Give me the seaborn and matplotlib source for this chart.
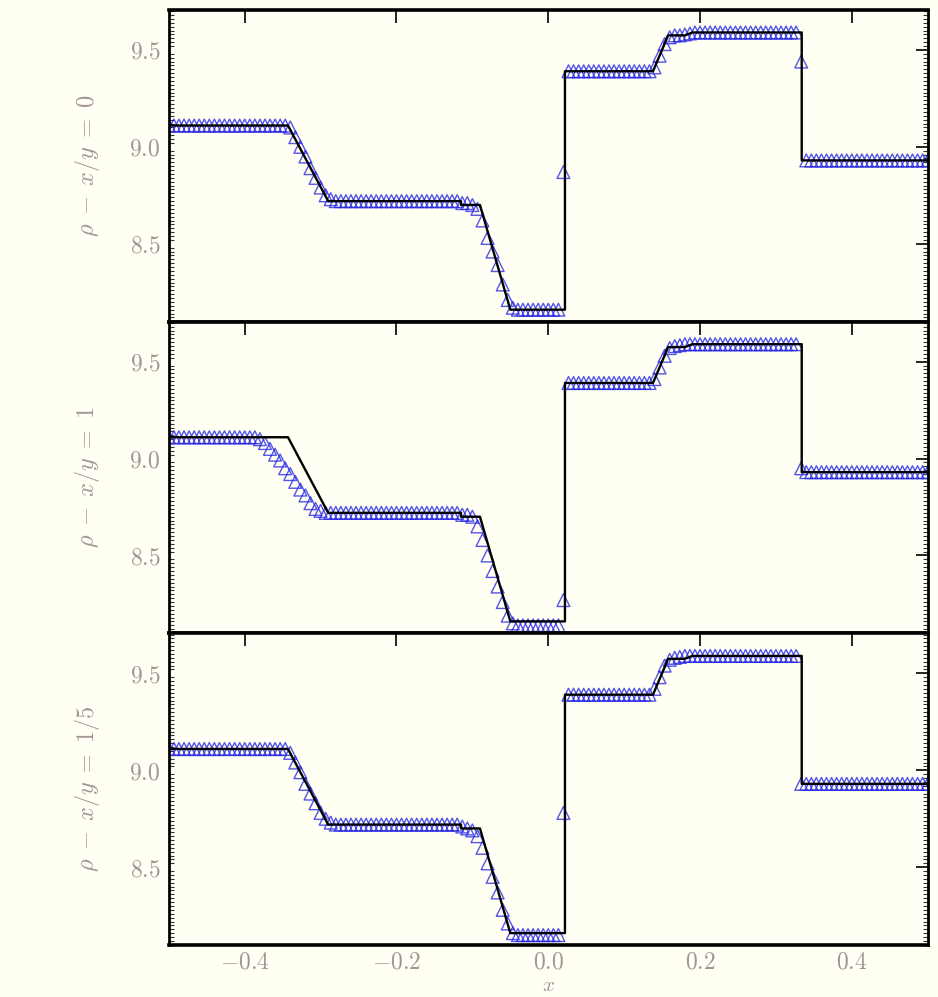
import numpy as np
import pandas as pd
import seaborn as sns
import matplotlib
matplotlib.use("Agg")
import matplotlib.pyplot as plt
from matplotlib.ticker import FixedLocator, MultipleLocator, FuncFormatter

# Exact solution: piecewise-linear profile (breakpoints)
exact_x = [-0.5, -0.343, -0.29, -0.115, -0.115, -0.09, -0.05, 0.022, 0.022,
           0.138, 0.158, 0.18, 0.19, 0.334, 0.334, 0.5]
exact_rho = [9.11, 9.11, 8.72, 8.72, 8.70, 8.70, 8.16, 8.16, 9.39,
             9.39, 9.575, 9.575, 9.59, 9.59, 8.93, 8.93]

# Cell centres of the numerical grid (150 cells on [-0.5, 0.5])
cell_x = np.linspace(-0.5, 0.5, 151)

# Numerical density along each line
rho_ratio_0 = [
    # left state
    9.11, 9.11, 9.11, 9.11, 9.11, 9.11, 9.11, 9.11, 9.11, 9.11, 9.11, 9.11,
    9.11, 9.11, 9.11, 9.11, 9.11, 9.11, 9.11, 9.11, 9.11, 9.11, 9.11, 9.11,
    # rarefaction
    9.10, 9.05, 9.00, 8.95, 8.89, 8.84, 8.79, 8.75, 8.73,
    # intermediate state
    8.72, 8.72, 8.72, 8.72, 8.72, 8.72, 8.72, 8.72, 8.72, 8.72, 8.72, 8.72, 8.72,
    8.72, 8.72, 8.72, 8.72, 8.72, 8.72, 8.72, 8.72, 8.72, 8.72, 8.72, 8.72,
    # second fan
    8.71, 8.71, 8.70, 8.68, 8.62, 8.53, 8.46, 8.39, 8.29, 8.21, 8.17,
    # low state
    8.16, 8.16, 8.16, 8.16, 8.16, 8.16, 8.16, 8.16, 8.16,
    # contact
    8.87,
    9.39, 9.39, 9.39, 9.39, 9.39, 9.39, 9.39, 9.39, 9.39, 9.39, 9.39, 9.39,
    9.39, 9.39, 9.39, 9.39, 9.39,
    9.41, 9.47, 9.53, 9.565, 9.575, 9.575, 9.58, 9.585,
    9.59, 9.59, 9.59, 9.59, 9.59, 9.59, 9.59, 9.59, 9.59, 9.59, 9.59,
    9.59, 9.59, 9.59, 9.59, 9.59, 9.59, 9.59, 9.59, 9.59, 9.59,
    # shock
    9.44,
    8.93, 8.93, 8.93, 8.93, 8.93, 8.93, 8.93, 8.93, 8.93, 8.93, 8.93, 8.93, 8.93,
    8.93, 8.93, 8.93, 8.93, 8.93, 8.93, 8.93, 8.93, 8.93, 8.93, 8.93, 8.93,
]

rho_ratio_1 = [
    9.11, 9.11, 9.11, 9.11, 9.11, 9.11, 9.11, 9.11, 9.11, 9.11, 9.11, 9.11,
    9.11, 9.11, 9.11, 9.11, 9.11, 9.11,
    9.10, 9.08, 9.05, 9.02, 8.99, 8.95, 8.92, 8.88, 8.84, 8.81, 8.77, 8.74, 8.73, 8.72,
    8.72, 8.72, 8.72, 8.72, 8.72, 8.72, 8.72, 8.72, 8.72, 8.72, 8.72, 8.72, 8.72,
    8.72, 8.72, 8.72, 8.72, 8.72, 8.72, 8.72, 8.72, 8.72, 8.72, 8.72, 8.72, 8.72,
    8.71, 8.71, 8.70, 8.65, 8.58, 8.50, 8.42, 8.34, 8.26, 8.19, 8.15,
    8.14, 8.14, 8.14, 8.14, 8.14, 8.14, 8.14, 8.14, 8.14,
    8.27,
    9.39, 9.39, 9.39, 9.39, 9.39, 9.39, 9.39, 9.39, 9.39, 9.39, 9.39, 9.39,
    9.39, 9.39, 9.39, 9.39, 9.39,
    9.41, 9.47, 9.53, 9.57, 9.58, 9.585, 9.59, 9.59,
    9.59, 9.59, 9.59, 9.59, 9.59, 9.59, 9.59, 9.59, 9.59, 9.59, 9.59,
    9.59, 9.59, 9.59, 9.59, 9.59, 9.59, 9.59, 9.59, 9.59, 9.59,
    8.95,
    8.93, 8.93, 8.93, 8.93, 8.93, 8.93, 8.93, 8.93, 8.93, 8.93, 8.93, 8.93, 8.93,
    8.93, 8.93, 8.93, 8.93, 8.93, 8.93, 8.93, 8.93, 8.93, 8.93, 8.93, 8.93,
]

rho_ratio_1_5 = [
    9.11, 9.11, 9.11, 9.11, 9.11, 9.11, 9.11, 9.11, 9.11, 9.11, 9.11, 9.11,
    9.11, 9.11, 9.11, 9.11, 9.11, 9.11, 9.11, 9.11, 9.11, 9.11, 9.11, 9.11,
    9.09, 9.04, 8.99, 8.93, 8.88, 8.83, 8.78, 8.75, 8.73,
    8.72, 8.72, 8.72, 8.72, 8.72, 8.72, 8.72, 8.72, 8.72, 8.72, 8.72, 8.72, 8.72,
    8.72, 8.72, 8.72, 8.72, 8.72, 8.72, 8.72, 8.72, 8.72, 8.72, 8.72, 8.72,
    8.71, 8.70, 8.69, 8.66, 8.60, 8.52, 8.45, 8.37, 8.28, 8.21, 8.16,
    8.15, 8.15, 8.15, 8.15, 8.15, 8.15, 8.15, 8.15, 8.15,
    8.78,
    9.39, 9.39, 9.39, 9.39, 9.39, 9.39, 9.39, 9.39, 9.39, 9.39, 9.39, 9.39,
    9.39, 9.39, 9.39, 9.39, 9.39,
    9.42, 9.48, 9.54, 9.57, 9.58, 9.585, 9.59, 9.59,
    9.59, 9.59, 9.59, 9.59, 9.59, 9.59, 9.59, 9.59, 9.59, 9.59, 9.59,
    9.59, 9.59, 9.59, 9.59, 9.59, 9.59, 9.59, 9.59, 9.59, 9.59,
    8.93,
    8.93, 8.93, 8.93, 8.93, 8.93, 8.93, 8.93, 8.93, 8.93, 8.93, 8.93, 8.93, 8.93,
    8.93, 8.93, 8.93, 8.93, 8.93, 8.93, 8.93, 8.93, 8.93, 8.93, 8.93, 8.93,
]

panel_labels = [r"$\rho\;-\;x/y\;=\;0$", r"$\rho\;-\;x/y\;=\;1$", r"$\rho\;-\;x/y\;=\;1/5$"]
panel_series = [rho_ratio_0, rho_ratio_1, rho_ratio_1_5]

x_ticks = [-0.4, -0.2, 0.0, 0.2, 0.4]
y_ticks = [8.5, 9.0, 9.5]

bg = "#fffff3"
label_gray = "#a39594"

sns.set_theme(style="white")
plt.rcParams["mathtext.fontset"] = "cm"
plt.rcParams["font.family"] = ["DejaVu Serif"]

fig = plt.figure(figsize=(9.38, 9.97), dpi=100, facecolor=bg)
axes = fig.subplots(3, 1, sharex=True)
fig.subplots_adjust(left=0.180, right=0.989, top=0.990, bottom=0.052, hspace=0)

exact_df = pd.DataFrame({"x": exact_x, "rho": exact_rho})

for ax, series, lab in zip(axes, panel_series, panel_labels):
    ax.set_facecolor(bg)
    n = min(len(cell_x), len(series))
    num_df = pd.DataFrame({"x": cell_x[:n], "rho": series[:n]})
    sns.scatterplot(data=num_df, x="x", y="rho", ax=ax, marker="^", s=85,
                    facecolor="none", edgecolor="#2a2ae6", linewidth=1.0,
                    alpha=0.8, zorder=2, legend=False)
    sns.lineplot(data=exact_df, x="x", y="rho", ax=ax, color="black",
                 linewidth=1.7, estimator=None, sort=False, zorder=3, legend=False)
    ax.set_xlim(-0.5, 0.5)
    ax.set_ylim(8.098, 9.706)
    ax.xaxis.set_major_locator(FixedLocator(x_ticks))
    ax.yaxis.set_major_locator(FixedLocator(y_ticks))
    ax.yaxis.set_minor_locator(MultipleLocator(0.02))
    ax.yaxis.set_major_formatter(FuncFormatter(lambda v, p: r"$%.1f$" % v))
    ax.xaxis.set_major_formatter(FuncFormatter(lambda v, p: r"$%.1f$" % v))
    ax.tick_params(axis="both", which="major", direction="in", length=9, width=1.2,
                   color="black", top=True, right=True, labelsize=17,
                   labelcolor=label_gray, pad=6)
    ax.tick_params(axis="x", which="major", pad=4)
    ax.tick_params(axis="y", which="minor", direction="in", length=3.5, width=0.8,
                   color="#333333", left=True, right=True)
    ax.set_ylabel(lab, color=label_gray, fontsize=17.5, labelpad=20)
    ax.set_xlabel("")
    for side, sp in ax.spines.items():
        sp.set_color("black")
        sp.set_linewidth(2.6 if side in ("top", "bottom") else 2.0)

axes[-1].set_xlabel(r"$x$", color=label_gray, fontsize=15)
axes[-1].xaxis.set_label_coords(0.5, -0.098)

fig.savefig("out.png", dpi=100, facecolor=bg)
